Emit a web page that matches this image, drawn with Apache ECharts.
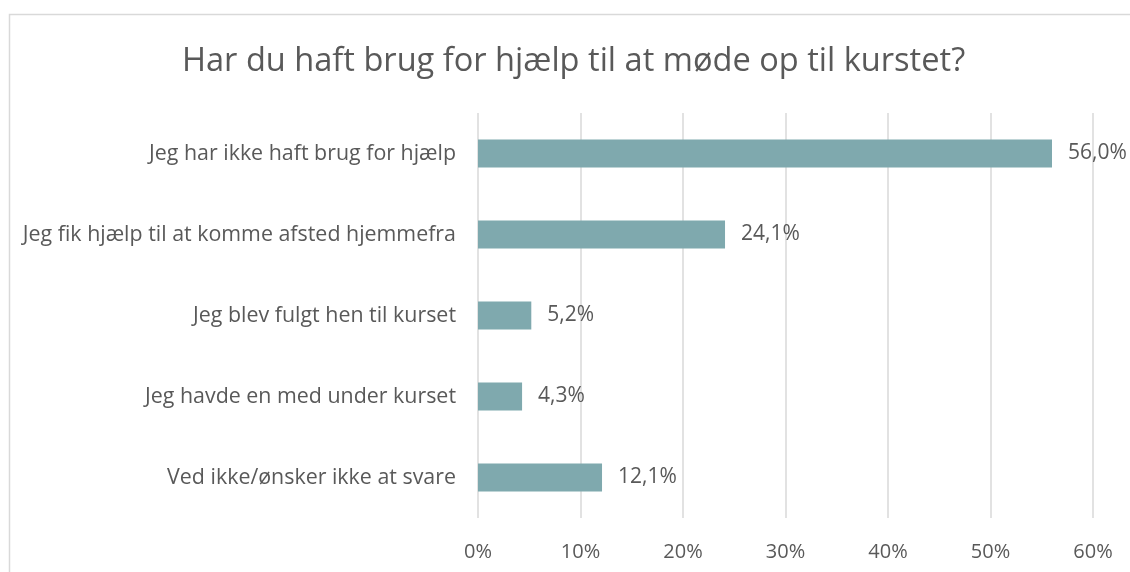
<!DOCTYPE html>
<html>
<head>
<meta charset="utf-8">
<script src="https://cdn.jsdelivr.net/npm/echarts@6/dist/echarts.min.js"></script>
<style>
  html, body { margin: 0; padding: 0; background: #ffffff; }
  #chart { width: 1130px; height: 572px; }
</style>
</head>
<body>
<div id="chart"></div>
<script>
// Survey answers, listed top to bottom
const categories = [
  'Jeg har ikke haft brug for hjælp',
  'Jeg fik hjælp til at komme afsted hjemmefra',
  'Jeg blev fulgt hen til kurset',
  'Jeg havde en med under kurset',
  'Ved ikke/ønsker ikke at svare'
];
// Share of respondents, in percent
const shares = [56.0, 24.1, 5.2, 4.3, 12.1];
const titleText = 'Har du haft brug for hjælp til at møde op til kurstet?';

const FONT = '"Open Sans", "Noto Sans", sans-serif';
const TEXT = '#595959';

const chart = echarts.init(document.getElementById('chart'), null, { renderer: 'canvas' });

chart.setOption({
  backgroundColor: '#ffffff',
  animation: false,
  graphic: [{
    type: 'rect',
    shape: { x: 9.5, y: 14.5, width: 1200, height: 700 },
    style: { fill: 'none', stroke: '#d9d9d9', lineWidth: 1.5 },
    silent: true
  }],
  title: {
    text: titleText,
    left: 177,
    top: 40,
    textStyle: { fontFamily: FONT, fontSize: 32.6, fontWeight: 'normal', color: TEXT }
  },
  grid: { left: 478, right: 37, top: 113, bottom: 54, containLabel: false },
  xAxis: {
    type: 'value',
    min: 0,
    max: 60,
    interval: 10,
    axisLine: { show: false },
    axisTick: { show: false },
    splitLine: { show: true, lineStyle: { color: '#d9d9d9', width: 1.5 } },
    axisLabel: {
      formatter: v => v + '%',
      fontFamily: FONT, fontSize: 20, color: TEXT, margin: 24
    }
  },
  yAxis: {
    type: 'category',
    inverse: true,
    data: categories,
    axisLine: { show: false },
    axisTick: { show: false },
    axisLabel: { fontFamily: FONT, fontSize: 21.4, color: TEXT, margin: 22 }
  },
  series: [{
    type: 'bar',
    data: shares,
    barWidth: 28,
    itemStyle: { color: '#7fa9ae' },
    label: {
      show: true,
      position: 'right',
      distance: 16,
      formatter: p => p.value.toFixed(1).replace('.', ',') + '%',
      fontFamily: FONT, fontSize: 21, color: TEXT
    }
  }]
});
</script>
</body>
</html>
